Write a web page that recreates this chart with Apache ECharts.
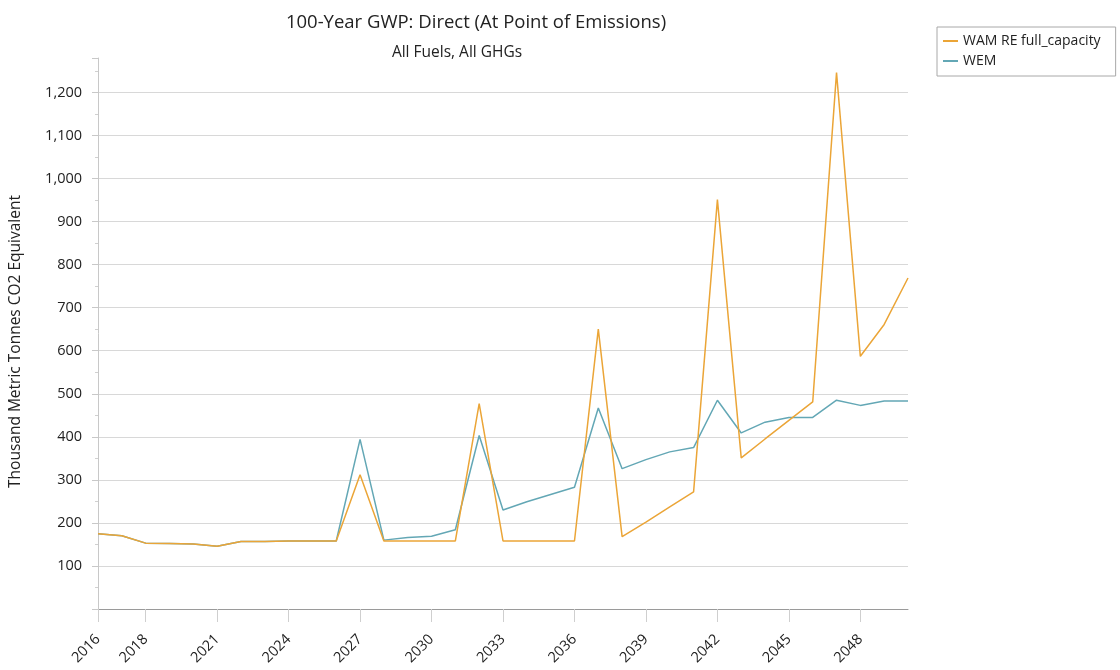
<!DOCTYPE html>
<html>
<head>
<meta charset="utf-8">
<script src="https://cdn.jsdelivr.net/npm/echarts@6/dist/echarts.min.js"></script>
<style>
  html, body { margin: 0; padding: 0; background: #fff; }
  #chart { width: 1120px; height: 670px; }
</style>
</head>
<body>
<div id="chart"></div>
<script>
// Years 2016–2050
const years = [];
for (let y = 2016; y <= 2050; y++) years.push(String(y));

// Thousand metric tonnes CO2 equivalent, 100-year GWP, direct emissions
const wamReFullCapacity = [
  175, 170, 153, 152, 151, 146, 157, 157, 158, 158,
  158, 312, 158, 158, 158, 158, 477, 158, 158, 158,
  158, 650, 168, 202, 237, 272, 951, 351, 395, 438,
  481, 1246, 587, 661, 769
];
const wem = [
  175, 170, 153, 152, 151, 146, 157, 157, 158, 158,
  158, 394, 160, 166, 169, 184, 403, 230, 249, 266,
  283, 467, 326, 347, 365, 375, 485, 409, 434, 445,
  445, 485, 473, 483, 483
];

// Labelled years along the horizontal axis
const labelYears = ['2016', '2018', '2021', '2024', '2027', '2030', '2033', '2036', '2039', '2042', '2045', '2048'];

const FONT = "'Open Sans', 'Noto Sans', sans-serif";
const ORANGE = '#EBA537';
const TEAL = '#63A7B5';

const chart = echarts.init(document.getElementById('chart'), null, { renderer: 'canvas' });

const showYear = (idx) => labelYears.indexOf(years[idx]) !== -1;

chart.setOption({
  animation: false,
  backgroundColor: '#fff',
  textStyle: { fontFamily: FONT },
  title: [
    {
      text: '100-Year GWP: Direct (At Point of Emissions)',
      left: 471, top: 8, textAlign: 'center',
      textStyle: { fontFamily: FONT, fontSize: 18.5, fontWeight: 'normal', color: '#222' }
    },
    {
      text: 'All Fuels, All GHGs',
      left: 452, top: 40, textAlign: 'center',
      textStyle: { fontFamily: FONT, fontSize: 15.5, fontWeight: 'normal', color: '#222' }
    }
  ],
  legend: {
    orient: 'vertical',
    left: 937, top: 27,
    padding: [7, 15, 8, 6],
    itemGap: 6,
    itemWidth: 15, itemHeight: 2,
    icon: 'rect',
    borderColor: '#a8a8a8', borderWidth: 1,
    textStyle: { fontFamily: FONT, fontSize: 14, color: '#222' },
    data: ['WAM RE full_capacity', 'WEM']
  },
  grid: { left: 98, right: 212, top: 58, bottom: 61, containLabel: false },
  xAxis: {
    type: 'category',
    data: years,
    boundaryGap: false,
    axisLine: { lineStyle: { color: '#9a9a9a', width: 1 } },
    axisTick: { show: true, interval: showYear, length: 13, lineStyle: { color: '#cfcfcf' } },
    axisLabel: {
      interval: showYear, rotate: 45, margin: 28,
      fontFamily: FONT, fontSize: 14.5, color: '#222'
    },
    splitLine: { show: false }
  },
  yAxis: {
    type: 'value',
    min: 0, max: 1280, interval: 100,
    name: 'Thousand Metric Tonnes CO2 Equivalent',
    nameLocation: 'middle', nameGap: 74, nameRotate: 90,
    nameTextStyle: { fontFamily: FONT, fontSize: 15.5, color: '#222', padding: [0, 16, 0, 0] },
    axisLine: { show: true, lineStyle: { color: '#c8c8c8', width: 1 } },
    axisTick: { show: true, length: 6, lineStyle: { color: '#c8c8c8' } },
    minorTick: { show: true, splitNumber: 2, length: 3, lineStyle: { color: '#d0d0d0' } },
    axisLabel: {
      fontFamily: FONT, fontSize: 14.5, color: '#222', margin: 16,
      showMinLabel: false, showMaxLabel: false,
      formatter: v => v.toLocaleString('en-US')
    },
    splitLine: { show: true, showMinLine: false, showMaxLine: false, lineStyle: { color: '#d8d8d8', width: 1 } }
  },
  series: [
    {
      name: 'WAM RE full_capacity',
      type: 'line',
      data: wamReFullCapacity,
      symbol: 'none',
      lineStyle: { color: ORANGE, width: 1.5 },
      itemStyle: { color: ORANGE },
      z: 3
    },
    {
      name: 'WEM',
      type: 'line',
      data: wem,
      symbol: 'none',
      lineStyle: { color: TEAL, width: 1.5 },
      itemStyle: { color: TEAL },
      z: 2
    }
  ]
});
</script>
</body>
</html>
